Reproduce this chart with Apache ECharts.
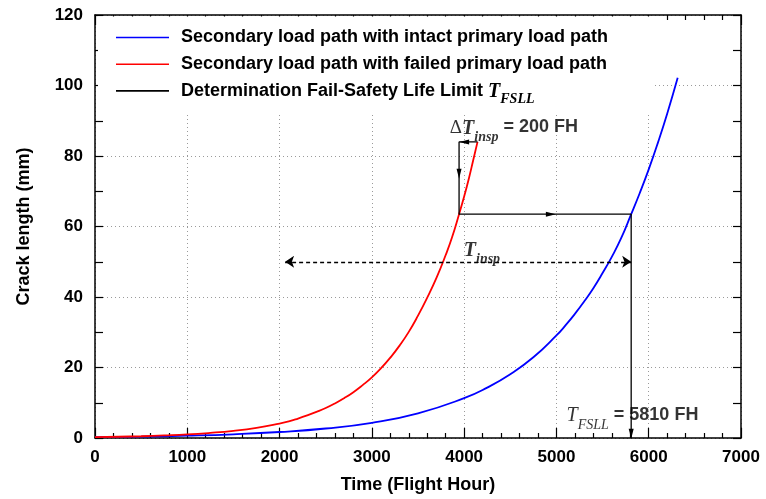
<!DOCTYPE html>
<html>
<head>
<meta charset="utf-8">
<script src="https://cdn.jsdelivr.net/npm/echarts@6/dist/echarts.min.js"></script>
<style>html,body{margin:0;padding:0;background:#fff}#c{width:766px;height:499px}</style>
</head>
<body>
<div id="c"></div>
<script>
// ---- data ----
const intactX = [0, 500, 1000, 1500, 2000, 2500, 3000, 3500, 4000, 4250, 4500, 4750, 5000, 5100, 5200, 5300, 5400, 5500, 5600, 5700, 5810, 5900, 6000, 6100, 6200, 6314];
const intactY = [0.25, 0.4, 0.65, 1.05, 1.7, 2.7, 4.3, 7.0, 11.3, 14.3, 18.1, 22.9, 29.1, 32.0, 35.2, 38.7, 42.5, 46.8, 51.4, 56.6, 63.5, 69.3, 76.2, 83.8, 92.0, 102.2];
const failedX = [0, 250, 500, 750, 1000, 1250, 1500, 1750, 2000, 2100, 2200, 2300, 2400, 2500, 2600, 2700, 2800, 2900, 3000, 3100, 3200, 3300, 3400, 3500, 3600, 3700, 3800, 3870, 3945, 4000, 4050, 4100, 4145];
const failedY = [0.25, 0.36, 0.5, 0.72, 1.0, 1.45, 2.05, 2.9, 4.1, 4.7, 5.5, 6.4, 7.4, 8.5, 9.8, 11.3, 13.0, 15.0, 17.2, 19.8, 22.8, 26.2, 30.1, 34.7, 39.8, 45.4, 51.9, 57.0, 63.5, 68.5, 73.5, 79.0, 84.0];
// Fail-safety life limit construction path
const fsllX = [4145, 3945, 3945, 5810, 5810];
const fsllY = [84, 84, 63.5, 63.5, 0];
// arrowheads on the construction path: [x, y, direction]
const arrowHeads = [[4000, 84, 'left'], [3945, 75, 'down'], [4940, 63.5, 'right'], [5810, 1.2, 'down']];
// inspection interval double arrow
const tInspStart = 2060, tInspEnd = 5810, tInspLevel = 50;
const xTickLabels = ['0', '1000', '2000', '3000', '4000', '5000', '6000', '7000'];
const yTickLabels = ['0', '20', '40', '60', '80', '100', '120'];
const seriesNames = ['Secondary load path with intact primary load path',
                     'Secondary load path with failed primary load path',
                     'Determination Fail-Safety Life Limit TFSLL'];
// text annotations anchored at data coordinates
const notes = [
  {x: 3845, y: 87.8, text: '{d|\u0394}{tb|T}{sb|insp}{n| = 200 FH}'},
  {x: 3996, y: 53.2, text: '{tb|T}{sb|insp}'},
  {x: 5110, y: 6.2, text: '{t|T}{s|FSLL}{n| = 5810 FH}'}
];

const SANS = '"Liberation Sans", Arial, Helvetica, sans-serif';
const SERIF = '"Liberation Serif", "Times New Roman", serif';
const arrowPaths = {
  right: 'path://M0,0L10,4L0,8Z',
  left: 'path://M10,0L0,4L10,8Z',
  down: 'path://M0,0L8,0L4,10Z',
  up: 'path://M0,10L8,10L4,0Z'
};
const arrowSizes = {right: [10, 5], left: [10, 5], down: [5, 10], up: [5, 10]};

const zip = (xs, ys) => xs.map((x, i) => [x, ys[i]]);

const richText = {
  n: {fontFamily: SANS, fontWeight: 'bold', fontSize: 18, color: '#000', lineHeight: 20, verticalAlign: 'top'},
  d: {fontFamily: SERIF, fontSize: 19, color: '#000', lineHeight: 20, verticalAlign: 'top'},
  t: {fontFamily: SERIF, fontStyle: 'italic', fontSize: 20, color: '#000', lineHeight: 20, verticalAlign: 'top'},
  s: {fontFamily: SERIF, fontStyle: 'italic', fontSize: 14, color: '#000', lineHeight: 8, verticalAlign: 'top', padding: [12, 0, 0, 0]},
  tb: {fontFamily: SERIF, fontStyle: 'italic', fontWeight: 'bold', fontSize: 20, color: '#000', lineHeight: 20, verticalAlign: 'top'},
  sb: {fontFamily: SERIF, fontStyle: 'italic', fontWeight: 'bold', fontSize: 14, color: '#000', lineHeight: 8, verticalAlign: 'top', padding: [12, 0, 0, 0]}
};

const axisCommon = {
  type: 'value',
  axisLine: {show: true, onZero: false, lineStyle: {color: '#000', width: 1.5}},
  axisTick: {show: true, inside: true, lineStyle: {color: '#000', width: 1.2}},
  minorTick: {show: true, lineStyle: {color: '#000', width: 1.2}},
};

const chart = echarts.init(document.getElementById('c'), null, {renderer: 'canvas'});
chart.setOption({
  animation: false,
  backgroundColor: '#fff',
  grid: {left: 95, right: 25, top: 15, bottom: 58, containLabel: false},
  xAxis: [
    Object.assign({}, axisCommon, {
      position: 'bottom', min: 0, max: 7000, interval: 1000,
      axisTick: Object.assign({}, axisCommon.axisTick, {length: 10}),
      minorTick: Object.assign({}, axisCommon.minorTick, {splitNumber: 5, length: 5}),
      axisLabel: {fontFamily: SANS, fontWeight: 'bold', fontSize: 17, color: '#000', margin: 11,
                  formatter: (v) => xTickLabels[Math.round(v / 1000)]},
      splitLine: {show: true, lineStyle: {color: '#9a9a9a', width: 1, type: [1, 3]}},
      name: 'Time (Flight Hour)', nameLocation: 'middle', nameGap: 38,
      nameTextStyle: {fontFamily: SANS, fontWeight: 'bold', fontSize: 18, color: '#000'}
    }),
    Object.assign({}, axisCommon, {
      position: 'top', min: 0, max: 7000, interval: 1000,
      axisTick: Object.assign({}, axisCommon.axisTick, {length: 10}),
      minorTick: Object.assign({}, axisCommon.minorTick, {splitNumber: 5, length: 5}),
      axisLabel: {show: false}, splitLine: {show: false}
    })
  ],
  yAxis: [
    Object.assign({}, axisCommon, {
      position: 'left', min: 0, max: 120, interval: 20,
      axisTick: Object.assign({}, axisCommon.axisTick, {length: 8}),
      minorTick: Object.assign({}, axisCommon.minorTick, {splitNumber: 2, length: 8}),
      axisLabel: {fontFamily: SANS, fontWeight: 'bold', fontSize: 17, color: '#000', margin: 12,
                  formatter: (v) => yTickLabels[Math.round(v / 20)]},
      splitLine: {show: true, lineStyle: {color: '#9a9a9a', width: 1, type: [1, 3]}},
      name: 'Crack length (mm)', nameLocation: 'middle', nameGap: 62,
      nameTextStyle: {fontFamily: SANS, fontWeight: 'bold', fontSize: 18, color: '#000'}
    }),
    Object.assign({}, axisCommon, {
      position: 'right', min: 0, max: 120, interval: 20,
      axisTick: Object.assign({}, axisCommon.axisTick, {length: 8}),
      minorTick: Object.assign({}, axisCommon.minorTick, {splitNumber: 2, length: 8}),
      axisLabel: {show: false}, splitLine: {show: false}
    })
  ],
  legend: {
    data: seriesNames,
    orient: 'vertical',
    left: 98, top: 16.5,
    padding: [12, 46, 8, 18],
    backgroundColor: '#fff',
    icon: 'rect',
    itemWidth: 53, itemHeight: 1.6, itemGap: 8.7,
    selectedMode: false,
    textStyle: {fontFamily: SANS, fontWeight: 'bold', fontSize: 18, color: '#000', lineHeight: 18, padding: [0, 0, 0, 7],
      rich: {
        n: {fontFamily: SANS, fontWeight: 'bold', fontSize: 18, color: '#000', lineHeight: 18, verticalAlign: 'top'},
        t: {fontFamily: SERIF, fontStyle: 'italic', fontSize: 20, color: '#000', lineHeight: 18, verticalAlign: 'top'},
        s: {fontFamily: SERIF, fontStyle: 'italic', fontSize: 14, color: '#000', lineHeight: 8, verticalAlign: 'top', padding: [10, 0, 0, 0]}
      }},
    formatter: (name) => name === seriesNames[2] ? '{n|Determination Fail-Safety Life Limit }{t|T}{s|FSLL}' : name
  },
  series: [
    {
      name: seriesNames[0], type: 'line', data: zip(intactX, intactY),
      symbol: 'none', smooth: 0.5,
      lineStyle: {color: '#0000ff', width: 1.8}, itemStyle: {color: '#0000ff'}, z: 3
    },
    {
      name: seriesNames[1], type: 'line', data: zip(failedX, failedY),
      symbol: 'none', smooth: 0.5,
      lineStyle: {color: '#ff0000', width: 1.8}, itemStyle: {color: '#ff0000'}, z: 3
    },
    {
      name: seriesNames[2], type: 'line', data: zip(fsllX, fsllY),
      symbol: 'none', lineStyle: {color: '#000', width: 1.3}, itemStyle: {color: '#000'}, z: 4
    },
    {
      type: 'scatter', silent: true, z: 5,
      data: arrowHeads.map(a => ({value: [a[0], a[1]], symbol: arrowPaths[a[2]], symbolSize: arrowSizes[a[2]]})),
      itemStyle: {color: '#000', opacity: 1}
    },
    {
      type: 'lines', coordinateSystem: 'cartesian2d', silent: true, z: 4,
      symbol: ['arrow', 'arrow'], symbolSize: [9, 9],
      lineStyle: {color: '#000', width: 1.3, type: [4, 3], opacity: 1},
      data: [{coords: [[tInspStart, tInspLevel], [tInspEnd, tInspLevel]]}]
    },
    {
      type: 'scatter', silent: true, z: 6, symbolSize: 0,
      data: notes.map(n => ({value: [n.x, n.y], label: {formatter: n.text}})),
      label: {show: true, position: 'right', distance: 0, color: '#000', rich: richText}
    }
  ]
});
</script>
</body>
</html>
